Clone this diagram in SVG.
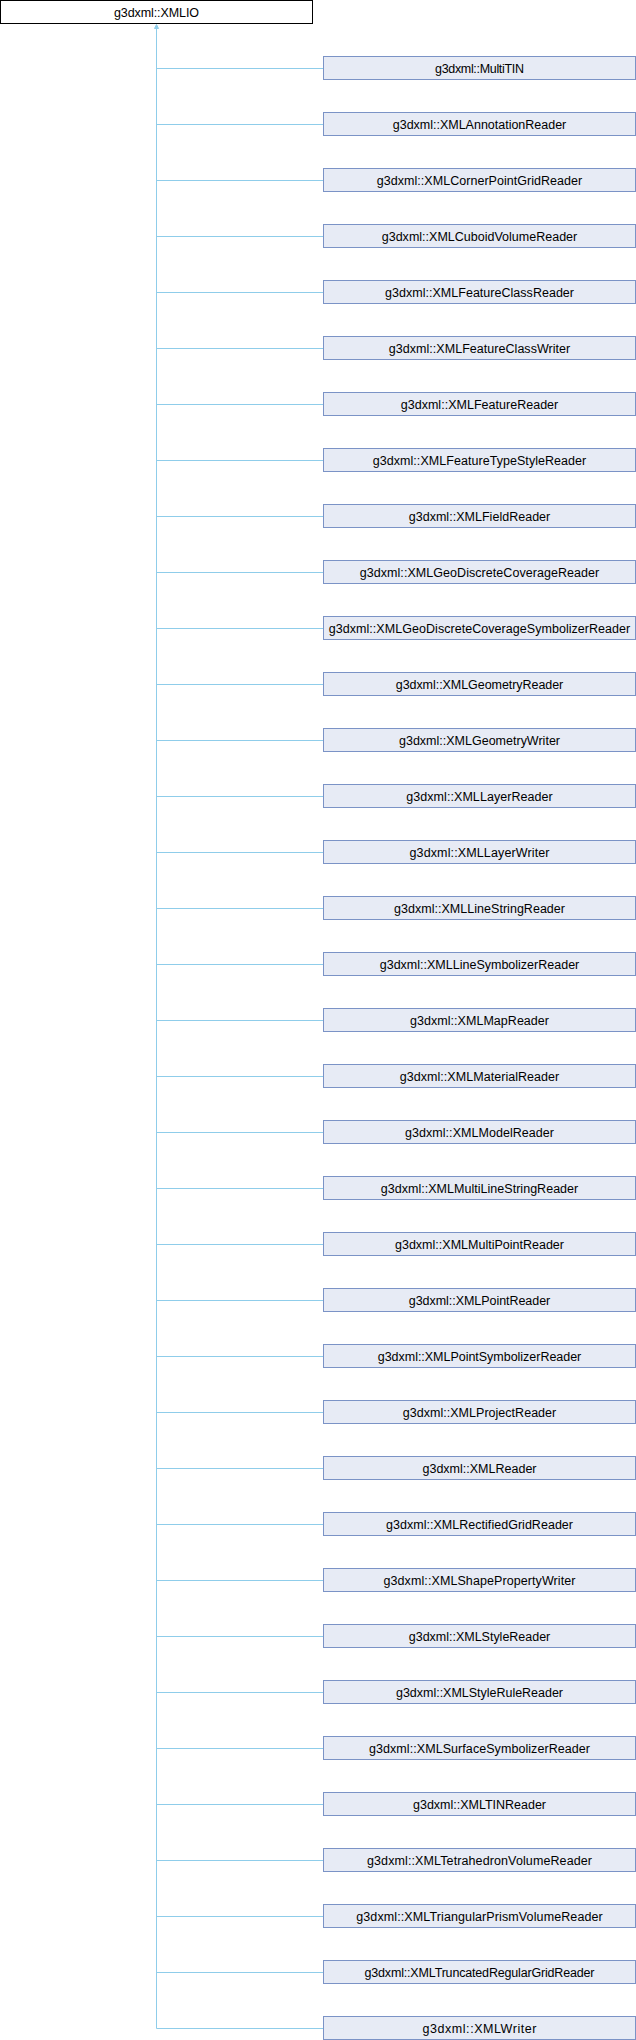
<svg xmlns="http://www.w3.org/2000/svg" width="636" height="2040" viewBox="0 0 636 2040">
<style>
.bg{fill:#ffffff}
.base{fill:#ffffff;stroke:#000000;stroke-width:1}
.node{fill:#e7ebf5;stroke:#7b93c6;stroke-width:1}
.lbl{font-family:"Liberation Sans",Arial,sans-serif;font-size:12.5px;fill:#000000;text-anchor:middle}
.edge{fill:none;stroke:#8fcdea;stroke-width:1}
.arrow{fill:#8fcdea;stroke:#8fcdea;stroke-width:1}
</style>
<rect class="bg" x="0" y="0" width="636" height="2040"/>
<g id="connectors">
<line class="edge" x1="156.5" y1="25" x2="156.5" y2="2028.5"/>
<polygon class="arrow" points="156.5,24.5 154.5,28.5 158.5,28.5"/>
<path class="edge" d="M156.5 68.5H323.5M156.5 124.5H323.5M156.5 180.5H323.5M156.5 236.5H323.5M156.5 292.5H323.5M156.5 348.5H323.5M156.5 404.5H323.5M156.5 460.5H323.5M156.5 516.5H323.5M156.5 572.5H323.5M156.5 628.5H323.5M156.5 684.5H323.5M156.5 740.5H323.5M156.5 796.5H323.5M156.5 852.5H323.5M156.5 908.5H323.5M156.5 964.5H323.5M156.5 1020.5H323.5M156.5 1076.5H323.5M156.5 1132.5H323.5M156.5 1188.5H323.5M156.5 1244.5H323.5M156.5 1300.5H323.5M156.5 1356.5H323.5M156.5 1412.5H323.5M156.5 1468.5H323.5M156.5 1524.5H323.5M156.5 1580.5H323.5M156.5 1636.5H323.5M156.5 1692.5H323.5M156.5 1748.5H323.5M156.5 1804.5H323.5M156.5 1860.5H323.5M156.5 1916.5H323.5M156.5 1972.5H323.5M156.5 2028.5H323.5"/>
</g>
<g id="XMLIO"><rect class="base" x="0.5" y="0.5" width="312" height="23"/><text class="lbl" x="156.5" y="17" textLength="85" lengthAdjust="spacing">g3dxml::XMLIO</text></g>
<g id="MultiTIN"><rect class="node" x="323.5" y="56.5" width="312" height="23"/><text class="lbl" x="479.5" y="73" textLength="89" lengthAdjust="spacing">g3dxml::MultiTIN</text></g>
<g id="XMLAnnotationReader"><rect class="node" x="323.5" y="112.5" width="312" height="23"/><text class="lbl" x="479.5" y="129" textLength="173.5" lengthAdjust="spacing">g3dxml::XMLAnnotationReader</text></g>
<g id="XMLCornerPointGridReader"><rect class="node" x="323.5" y="168.5" width="312" height="23"/><text class="lbl" x="479.5" y="185" textLength="205.5" lengthAdjust="spacing">g3dxml::XMLCornerPointGridReader</text></g>
<g id="XMLCuboidVolumeReader"><rect class="node" x="323.5" y="224.5" width="312" height="23"/><text class="lbl" x="479.5" y="241" textLength="195.5" lengthAdjust="spacing">g3dxml::XMLCuboidVolumeReader</text></g>
<g id="XMLFeatureClassReader"><rect class="node" x="323.5" y="280.5" width="312" height="23"/><text class="lbl" x="479.5" y="297" textLength="189" lengthAdjust="spacing">g3dxml::XMLFeatureClassReader</text></g>
<g id="XMLFeatureClassWriter"><rect class="node" x="323.5" y="336.5" width="312" height="23"/><text class="lbl" x="479.5" y="353" textLength="181.5" lengthAdjust="spacing">g3dxml::XMLFeatureClassWriter</text></g>
<g id="XMLFeatureReader"><rect class="node" x="323.5" y="392.5" width="312" height="23"/><text class="lbl" x="479.5" y="409" textLength="157.5" lengthAdjust="spacing">g3dxml::XMLFeatureReader</text></g>
<g id="XMLFeatureTypeStyleReader"><rect class="node" x="323.5" y="448.5" width="312" height="23"/><text class="lbl" x="479.5" y="465" textLength="213.5" lengthAdjust="spacing">g3dxml::XMLFeatureTypeStyleReader</text></g>
<g id="XMLFieldReader"><rect class="node" x="323.5" y="504.5" width="312" height="23"/><text class="lbl" x="479.5" y="521" textLength="141.5" lengthAdjust="spacing">g3dxml::XMLFieldReader</text></g>
<g id="XMLGeoDiscreteCoverageReader"><rect class="node" x="323.5" y="560.5" width="312" height="23"/><text class="lbl" x="479.5" y="577" textLength="239.5" lengthAdjust="spacing">g3dxml::XMLGeoDiscreteCoverageReader</text></g>
<g id="XMLGeoDiscreteCoverageSymbolizerReader"><rect class="node" x="323.5" y="616.5" width="312" height="23"/><text class="lbl" x="479.5" y="633" textLength="301.5" lengthAdjust="spacing">g3dxml::XMLGeoDiscreteCoverageSymbolizerReader</text></g>
<g id="XMLGeometryReader"><rect class="node" x="323.5" y="672.5" width="312" height="23"/><text class="lbl" x="479.5" y="689" textLength="167.5" lengthAdjust="spacing">g3dxml::XMLGeometryReader</text></g>
<g id="XMLGeometryWriter"><rect class="node" x="323.5" y="728.5" width="312" height="23"/><text class="lbl" x="479.5" y="745" textLength="161" lengthAdjust="spacing">g3dxml::XMLGeometryWriter</text></g>
<g id="XMLLayerReader"><rect class="node" x="323.5" y="784.5" width="312" height="23"/><text class="lbl" x="479.5" y="801" textLength="146.5" lengthAdjust="spacing">g3dxml::XMLLayerReader</text></g>
<g id="XMLLayerWriter"><rect class="node" x="323.5" y="840.5" width="312" height="23"/><text class="lbl" x="479.5" y="857" textLength="140" lengthAdjust="spacing">g3dxml::XMLLayerWriter</text></g>
<g id="XMLLineStringReader"><rect class="node" x="323.5" y="896.5" width="312" height="23"/><text class="lbl" x="479.5" y="913" textLength="171" lengthAdjust="spacing">g3dxml::XMLLineStringReader</text></g>
<g id="XMLLineSymbolizerReader"><rect class="node" x="323.5" y="952.5" width="312" height="23"/><text class="lbl" x="479.5" y="969" textLength="199.5" lengthAdjust="spacing">g3dxml::XMLLineSymbolizerReader</text></g>
<g id="XMLMapReader"><rect class="node" x="323.5" y="1008.5" width="312" height="23"/><text class="lbl" x="479.5" y="1025" textLength="139" lengthAdjust="spacing">g3dxml::XMLMapReader</text></g>
<g id="XMLMaterialReader"><rect class="node" x="323.5" y="1064.5" width="312" height="23"/><text class="lbl" x="479.5" y="1081" textLength="159.5" lengthAdjust="spacing">g3dxml::XMLMaterialReader</text></g>
<g id="XMLModelReader"><rect class="node" x="323.5" y="1120.5" width="312" height="23"/><text class="lbl" x="479.5" y="1137" textLength="149" lengthAdjust="spacing">g3dxml::XMLModelReader</text></g>
<g id="XMLMultiLineStringReader"><rect class="node" x="323.5" y="1176.5" width="312" height="23"/><text class="lbl" x="479.5" y="1193" textLength="197.5" lengthAdjust="spacing">g3dxml::XMLMultiLineStringReader</text></g>
<g id="XMLMultiPointReader"><rect class="node" x="323.5" y="1232.5" width="312" height="23"/><text class="lbl" x="479.5" y="1249" textLength="169" lengthAdjust="spacing">g3dxml::XMLMultiPointReader</text></g>
<g id="XMLPointReader"><rect class="node" x="323.5" y="1288.5" width="312" height="23"/><text class="lbl" x="479.5" y="1305" textLength="141.5" lengthAdjust="spacing">g3dxml::XMLPointReader</text></g>
<g id="XMLPointSymbolizerReader"><rect class="node" x="323.5" y="1344.5" width="312" height="23"/><text class="lbl" x="479.5" y="1361" textLength="203.5" lengthAdjust="spacing">g3dxml::XMLPointSymbolizerReader</text></g>
<g id="XMLProjectReader"><rect class="node" x="323.5" y="1400.5" width="312" height="23"/><text class="lbl" x="479.5" y="1417" textLength="153.5" lengthAdjust="spacing">g3dxml::XMLProjectReader</text></g>
<g id="XMLReader"><rect class="node" x="323.5" y="1456.5" width="312" height="23"/><text class="lbl" x="479.5" y="1473" textLength="114" lengthAdjust="spacing">g3dxml::XMLReader</text></g>
<g id="XMLRectifiedGridReader"><rect class="node" x="323.5" y="1512.5" width="312" height="23"/><text class="lbl" x="479.5" y="1529" textLength="187" lengthAdjust="spacing">g3dxml::XMLRectifiedGridReader</text></g>
<g id="XMLShapePropertyWriter"><rect class="node" x="323.5" y="1568.5" width="312" height="23"/><text class="lbl" x="479.5" y="1585" textLength="192" lengthAdjust="spacing">g3dxml::XMLShapePropertyWriter</text></g>
<g id="XMLStyleReader"><rect class="node" x="323.5" y="1624.5" width="312" height="23"/><text class="lbl" x="479.5" y="1641" textLength="141.5" lengthAdjust="spacing">g3dxml::XMLStyleReader</text></g>
<g id="XMLStyleRuleReader"><rect class="node" x="323.5" y="1680.5" width="312" height="23"/><text class="lbl" x="479.5" y="1697" textLength="167" lengthAdjust="spacing">g3dxml::XMLStyleRuleReader</text></g>
<g id="XMLSurfaceSymbolizerReader"><rect class="node" x="323.5" y="1736.5" width="312" height="23"/><text class="lbl" x="479.5" y="1753" textLength="221" lengthAdjust="spacing">g3dxml::XMLSurfaceSymbolizerReader</text></g>
<g id="XMLTINReader"><rect class="node" x="323.5" y="1792.5" width="312" height="23"/><text class="lbl" x="479.5" y="1809" textLength="133" lengthAdjust="spacing">g3dxml::XMLTINReader</text></g>
<g id="XMLTetrahedronVolumeReader"><rect class="node" x="323.5" y="1848.5" width="312" height="23"/><text class="lbl" x="479.5" y="1865" textLength="225" lengthAdjust="spacing">g3dxml::XMLTetrahedronVolumeReader</text></g>
<g id="XMLTriangularPrismVolumeReader"><rect class="node" x="323.5" y="1904.5" width="312" height="23"/><text class="lbl" x="479.5" y="1921" textLength="246.5" lengthAdjust="spacing">g3dxml::XMLTriangularPrismVolumeReader</text></g>
<g id="XMLTruncatedRegularGridReader"><rect class="node" x="323.5" y="1960.5" width="312" height="23"/><text class="lbl" x="479.5" y="1977" textLength="230" lengthAdjust="spacing">g3dxml::XMLTruncatedRegularGridReader</text></g>
<g id="XMLWriter"><rect class="node" x="323.5" y="2016.5" width="312" height="23"/><text class="lbl" x="479.5" y="2033" textLength="114" lengthAdjust="spacing">g3dxml::XMLWriter</text></g>
</svg>
